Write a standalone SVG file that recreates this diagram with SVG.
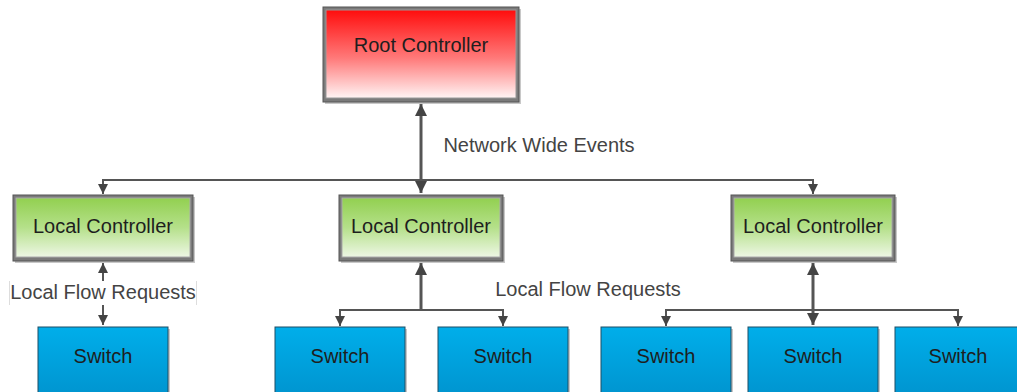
<svg xmlns="http://www.w3.org/2000/svg" width="1017" height="392" viewBox="0 0 1017 392">
<defs>
<linearGradient id="gRed" x1="0" y1="0" x2="0" y2="1">
<stop offset="0" stop-color="#ff0d0d"/>
<stop offset="0.55" stop-color="#ff7a7a"/>
<stop offset="1" stop-color="#fff4f4"/>
</linearGradient>
<linearGradient id="gGreen" x1="0" y1="0" x2="0" y2="1">
<stop offset="0" stop-color="#92d050"/>
<stop offset="0.5" stop-color="#b5e08a"/>
<stop offset="1" stop-color="#edf7e4"/>
</linearGradient>
<linearGradient id="gBlue" x1="0" y1="0" x2="0" y2="1">
<stop offset="0" stop-color="#00aeea"/>
<stop offset="1" stop-color="#0094cf"/>
</linearGradient>
<marker id="ah" viewBox="0 0 10 10" refX="10" refY="5" markerWidth="10" markerHeight="10" markerUnits="userSpaceOnUse" orient="auto-start-reverse">
<path d="M0,0 L10,5 L0,10 z" fill="#444"/>
</marker>
<marker id="ahb" viewBox="0 0 10 10" refX="10" refY="5" markerWidth="12" markerHeight="12" markerUnits="userSpaceOnUse" orient="auto-start-reverse">
<path d="M0,0 L10,5 L0,10 z" fill="#444"/>
</marker>
</defs>
<style>
text{font-family:"Liberation Sans",Arial,sans-serif;font-size:20px;text-anchor:middle}
.nt{fill:#1e1e1e}
.lb{fill:#444}
.frame{fill:#7a7a7a;stroke:#555;stroke-width:1}
.sw{fill:url(#gBlue);stroke:#1d4f66;stroke-width:1}
.shadow{fill:#c8c8c8}
.c{fill:none;stroke:#555;stroke-width:2}
.cb{fill:none;stroke:#555;stroke-width:3}
</style>

<g id="connectors">
<path class="cb" d="M421,104 L421,193" marker-start="url(#ahb)" marker-end="url(#ahb)"/>
<path class="c" d="M103,194 L103,180 L813,180 L813,194" marker-start="url(#ah)" marker-end="url(#ah)"/>
<path class="c" d="M103,263 L103,325" marker-start="url(#ah)" marker-end="url(#ah)"/>
<path class="cb" d="M421,263 L421,310"  marker-start="url(#ahb)"/>
<path class="c" d="M340,326 L340,310 L503,310 L503,326" marker-start="url(#ah)" marker-end="url(#ah)"/>
<path class="cb" d="M813,263 L813,325" marker-start="url(#ahb)" marker-end="url(#ahb)"/>
<path class="c" d="M666,326 L666,310 L958,310 L958,326" marker-start="url(#ah)" marker-end="url(#ah)"/>
<rect x="9" y="281" width="188" height="24" fill="#fff"/>
<path d="M9.5,281 V305 M196.5,281 V305" stroke="#ddd" stroke-width="1"/>
<text class="lb" x="103" y="299">Local Flow Requests</text>
<text class="lb" x="588" y="296">Local Flow Requests</text>
<text class="lb" x="539" y="152">Network Wide Events</text>
</g>

<g id="root">
<rect x="325" y="9" width="196" height="95" class="shadow"/>
<rect x="323" y="7" width="196" height="95" class="frame"/>
<rect x="326" y="10" width="190" height="88" fill="url(#gRed)" stroke="#999" stroke-width="1"/>
<text class="nt" x="421" y="52">Root Controller</text>
</g>

<g id="lc1">
<rect x="15" y="197" width="180" height="66" class="shadow"/>
<rect x="13" y="195" width="180" height="66" class="frame"/>
<rect x="16" y="198" width="174" height="59" fill="url(#gGreen)" stroke="#aaa" stroke-width="1"/>
<text class="nt" x="103" y="233">Local Controller</text>
</g>

<g id="lc2">
<rect x="341" y="197" width="164" height="66" class="shadow"/>
<rect x="339" y="195" width="164" height="66" class="frame"/>
<rect x="342" y="198" width="158" height="59" fill="url(#gGreen)" stroke="#aaa" stroke-width="1"/>
<text class="nt" x="421" y="233">Local Controller</text>
</g>

<g id="lc3">
<rect x="733" y="197" width="164" height="66" class="shadow"/>
<rect x="731" y="195" width="164" height="66" class="frame"/>
<rect x="734" y="198" width="158" height="59" fill="url(#gGreen)" stroke="#aaa" stroke-width="1"/>
<text class="nt" x="813" y="233">Local Controller</text>
</g>

<g id="s1">
<rect x="40" y="329" width="130" height="70" class="shadow"/>
<rect x="38" y="327" width="130" height="70" class="sw"/>
<text class="nt" x="103" y="363">Switch</text>
</g>
<g id="s2">
<rect x="277" y="329" width="130" height="70" class="shadow"/>
<rect x="275" y="327" width="130" height="70" class="sw"/>
<text class="nt" x="340" y="363">Switch</text>
</g>
<g id="s3">
<rect x="440" y="329" width="130" height="70" class="shadow"/>
<rect x="438" y="327" width="130" height="70" class="sw"/>
<text class="nt" x="503" y="363">Switch</text>
</g>
<g id="s4">
<rect x="603" y="329" width="130" height="70" class="shadow"/>
<rect x="601" y="327" width="130" height="70" class="sw"/>
<text class="nt" x="666" y="363">Switch</text>
</g>
<g id="s5">
<rect x="750" y="329" width="130" height="70" class="shadow"/>
<rect x="748" y="327" width="130" height="70" class="sw"/>
<text class="nt" x="813" y="363">Switch</text>
</g>
<g id="s6">
<rect x="897" y="329" width="130" height="70" class="shadow"/>
<rect x="895" y="327" width="130" height="70" class="sw"/>
<text class="nt" x="958" y="363">Switch</text>
</g>
</svg>
